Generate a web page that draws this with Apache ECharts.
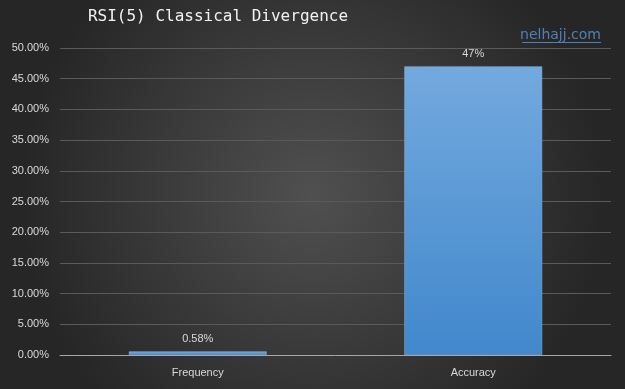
<!DOCTYPE html>
<html><head><meta charset="utf-8">
<script src="https://cdn.jsdelivr.net/npm/echarts@6/dist/echarts.min.js"></script>
<style>html,body{margin:0;padding:0;background:#333;}#c{width:625px;height:389px;}</style>
</head><body><div id="c"></div>
<script>
const categories = ['Frequency', 'Accuracy'];
const values = [0.58, 47];
const valueLabels = ['0.58%', '47%'];
const yTicks = [0, 5, 10, 15, 20, 25, 30, 35, 40, 45, 50];

const chart = echarts.init(document.getElementById('c'), null, {renderer: 'canvas'});
chart.setOption({
  backgroundColor: {
    type: 'radial', x: 0.5, y: 0.5, r: 0.75,
    colorStops: [{offset: 0, color: '#505050'}, {offset: 1, color: '#262626'}]
  },
  title: [{
    text: 'RSI(5) Classical Divergence',
    left: 213, top: 4, textAlign: 'center',
    textStyle: {color: '#f2f2f2', fontSize: 16, fontWeight: 'normal', fontFamily: 'DejaVu Sans Mono'}
  }, {
    text: 'nelhajj.com',
    right: 24, top: 28, padding: 0,
    textStyle: {color: '#4f81b8', fontSize: 14, fontWeight: 'normal', fontFamily: 'DejaVu Sans'}
  }],
  graphic: [{
    type: 'line', shape: {x1: 522, y1: 42.5, x2: 601, y2: 42.5},
    style: {stroke: '#4f81b8', lineWidth: 1}
  }],
  grid: {left: 60, right: 14, top: 48, bottom: 34},
  xAxis: {
    type: 'category', data: categories,
    axisLine: {lineStyle: {color: '#a6a6a6', width: 1}},
    axisTick: {show: false},
    axisLabel: {color: '#d9d9d9', fontSize: 11, fontFamily: 'Liberation Sans', margin: 12}
  },
  yAxis: {
    type: 'value', min: 0, max: 50, interval: 5,
    axisLine: {show: false}, axisTick: {show: false},
    splitLine: {lineStyle: {color: '#5a5a5a', width: 1}},
    axisLabel: {color: '#d9d9d9', fontSize: 11, fontFamily: 'Liberation Sans', margin: 11,
      formatter: v => v.toFixed(2) + '%'}
  },
  series: [{
    type: 'bar', data: values, barWidth: '50%',
    itemStyle: {
      color: {type: 'linear', x: 0, y: 0, x2: 0, y2: 1,
        colorStops: [{offset: 0, color: '#73a9de'}, {offset: 1, color: '#4188cc'}]},
      borderColor: '#8cbbe8', borderWidth: 0.5
    },
    label: {show: true, position: 'top', distance: 7, color: '#d9d9d9', fontSize: 11, fontFamily: 'Liberation Sans',
      formatter: p => valueLabels[p.dataIndex]}
  }]
});
</script></body></html>
